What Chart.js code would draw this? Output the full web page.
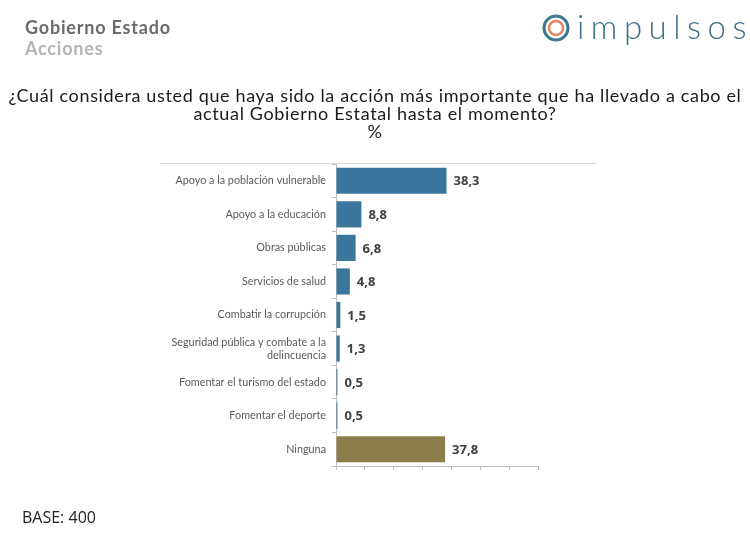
<!DOCTYPE html>
<html>
<head>
<meta charset="utf-8">
<script src="https://cdn.jsdelivr.net/npm/chart.js@4/dist/chart.umd.min.js"></script>
<style>
  body { margin: 0; background: #fff; font-family: "Lato", "Open Sans", sans-serif; }
  #wrap { position: relative; width: 750px; height: 546px; overflow: hidden; }
  canvas { position: absolute; left: 0; top: 0; }
  .txt { position: absolute; white-space: nowrap; }
  #head1 { left: 25px; top: 16px; font-size: 18px; font-weight: bold; color: #6b6b6b; letter-spacing: 0.8px; }
  #head2 { left: 25px; top: 37px; font-size: 18px; font-weight: bold; color: #b4b4b4; letter-spacing: 0.8px; }
  #q { left: 0; width: 750px; top: 86px; text-align: center; font-size: 18px; line-height: 18px; color: #1a1a1a; letter-spacing: 0.65px; }
  #base { left: 22px; top: 506px; font-size: 16px; color: #222; font-family: "Open Sans", sans-serif; }
  #topline { position: absolute; left: 160px; top: 163px; width: 436px; height: 1px; background: #d9d9d9; }
  #logo { position: absolute; left: 542px; top: 14px; width: 28px; height: 28px; }
  #brand { left: 577px; top: 6px; font-size: 33px; color: #3d6f86; letter-spacing: 6.5px; font-weight: 300; font-family: "Lato", sans-serif; }
</style>
</head>
<body>
<div id="wrap">
  <canvas id="chart" width="750" height="546"></canvas>
  <div class="txt" id="head1">Gobierno Estado</div>
  <div class="txt" id="head2">Acciones</div>
  <svg id="logo" viewBox="0 0 28 28">
    <circle cx="14" cy="14" r="12" fill="none" stroke="#3d7a8f" stroke-width="3"></circle>
    <circle cx="14" cy="14" r="7" fill="none" stroke="#e0845a" stroke-width="2.4"></circle>
  </svg>
  <div class="txt" id="brand">impulsos</div>
  <div class="txt" id="q">¿Cuál considera usted que haya sido la acción más importante que ha llevado a cabo el<br>actual Gobierno Estatal hasta el momento?<br>%</div>
  <div id="topline"></div>
  <div class="txt" id="base">BASE: 400</div>
</div>
<script>
const categories = [
  'Apoyo a la población vulnerable',
  'Apoyo a la educación',
  'Obras públicas',
  'Servicios de salud',
  'Combatir la corrupción',
  ['Seguridad pública y combate a la', 'delincuencia'],
  'Fomentar el turismo del estado',
  'Fomentar el deporte',
  'Ninguna'
];
const values = [38.3, 8.8, 6.8, 4.8, 1.5, 1.3, 0.5, 0.5, 37.8];
const barColors = ['#3b779c', '#3b779c', '#3b779c', '#3b779c', '#3b779c', '#3b779c', '#3b779c', '#3b779c', '#8b7e4c'];

// value labels at bar ends, decimal comma
const valueLabels = {
  id: 'valueLabels',
  afterDatasetsDraw(chart) {
    const ctx = chart.ctx;
    const meta = chart.getDatasetMeta(0);
    ctx.save();
    ctx.font = 'bold 13px "Open Sans", sans-serif';
    ctx.fillStyle = '#404040';
    ctx.textBaseline = 'middle';
    meta.data.forEach((bar, i) => {
      ctx.fillText(values[i].toFixed(1).replace('.', ','), bar.x + 7, bar.y + 1);
    });
    ctx.restore();
  }
};

new Chart(document.getElementById('chart'), {
  type: 'bar',
  data: {
    labels: categories,
    datasets: [{
      data: values,
      backgroundColor: barColors,
      categoryPercentage: 1,
      barPercentage: 0.78
    }]
  },
  options: {
    indexAxis: 'y',
    responsive: false,
    animation: false,
    layout: { padding: { left: 160, right: 212, top: 164, bottom: 74 } },
    plugins: { legend: { display: false }, tooltip: { enabled: false } },
    scales: {
      x: {
        min: 0, max: 70,
        ticks: { display: false, stepSize: 10 },
        grid: { drawOnChartArea: false, drawTicks: true, tickLength: 4, color: '#bfbfbf' },
        border: { display: true, color: '#bfbfbf' },
        afterFit(s) { s.height = 6; }
      },
      y: {
        ticks: { color: '#595959', font: { size: 10.8, family: '"Lato", sans-serif' }, padding: 6 },
        grid: { drawOnChartArea: false, drawTicks: true, tickLength: 4, color: '#bfbfbf' },
        border: { display: true, color: '#bfbfbf' },
        afterFit(s) { s.width = 176; }
      }
    }
  },
  plugins: [valueLabels]
});
</script>
</body>
</html>
